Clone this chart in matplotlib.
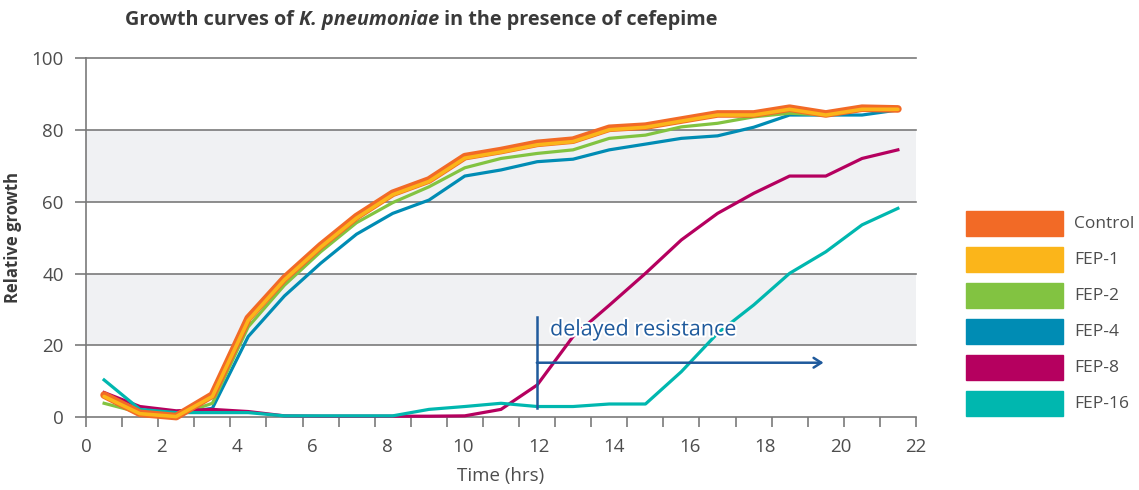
import matplotlib.pyplot as plt
import matplotlib.patheffects as pe
from matplotlib.patches import Rectangle

plt.rcParams['font.family'] = ['Open Sans', 'DejaVu Sans']

# sample times (hrs)
hours = [0.48, 1.43, 2.39, 3.35, 4.30, 5.26, 6.22, 7.17, 8.13, 9.09, 10.04, 11.0,
         11.96, 12.91, 13.87, 14.83, 15.78, 16.74, 17.70, 18.65, 19.61, 20.57, 21.52]

control = [6.2, 1.1, 0.2, 6.2, 27.6, 38.7, 47.8, 55.9, 62.4, 66.1, 72.6, 74.3,
           76.3, 77.2, 80.5, 81.1, 82.8, 84.5, 84.5, 86.1, 84.5, 86.1, 85.9]
fep1 = [5.8, 1.0, 0.2, 5.8, 27.0, 38.3, 47.4, 55.5, 62.0, 65.7, 72.2, 73.9,
        75.9, 76.8, 80.1, 80.8, 82.5, 84.2, 84.2, 85.8, 84.2, 85.8, 85.8]
fep2 = [3.9, 1.3, 0.5, 3.9, 25.2, 36.8, 46.1, 54.2, 59.8, 64.2, 69.5, 72.1,
        73.5, 74.5, 77.7, 78.6, 80.9, 81.9, 83.7, 84.7, 84.2, 85.6, 85.9]
fep4 = [6.0, 2.0, 1.0, 2.5, 22.5, 33.8, 42.9, 51.0, 56.8, 60.5, 67.2, 68.9,
        71.2, 71.9, 74.5, 76.1, 77.7, 78.4, 80.8, 84.2, 84.2, 84.2, 85.6]
fep8 = [6.9, 3.0, 1.8, 2.2, 1.6, 0.4, 0.3, 0.3, 0.3, 0.3, 0.4, 2.2,
        9.0, 22.5, 31.2, 40.1, 49.4, 56.8, 62.4, 67.2, 67.2, 72.1, 74.5]
fep16 = [10.4, 2.2, 1.3, 1.3, 1.3, 0.4, 0.4, 0.4, 0.4, 2.2, 3.0, 3.9,
         3.0, 3.0, 3.7, 3.7, 12.7, 23.4, 31.3, 40.1, 46.1, 53.6, 58.2]

labels = ['Control', 'FEP-1', 'FEP-2', 'FEP-4', 'FEP-8', 'FEP-16']
colors = ['#f26a26', '#fbb51a', '#82c341', '#008cb4', '#b5005f', '#00b7af']

grey = '#7a7a7a'
text_grey = '#4d4d4d'
blue_note = '#1f5a9c'

fig = plt.figure(figsize=(11.39, 4.90), dpi=100)
ax = fig.add_axes([0.0755, 0.1484, 0.7287, 0.7326])

# shaded bands and grid
for lo, hi in [(20, 40), (60, 80)]:
    ax.axhspan(lo, hi, color='#f0f1f3', zorder=0, lw=0)
for yv in [20, 40, 60, 80, 100]:
    ax.axhline(yv, color=grey, lw=1.2, zorder=1, clip_on=False)

ax.set_xlim(0, 22)
ax.set_ylim(0, 100)

# series
ax.plot(hours, fep4, color=colors[3], lw=2.3, zorder=3, clip_on=False)
ax.plot(hours, fep2, color=colors[2], lw=2.3, zorder=3, clip_on=False)
ax.plot(hours, fep8, color=colors[4], lw=2.3, zorder=4, clip_on=False)
ax.plot(hours, fep16, color=colors[5], lw=2.3, zorder=4, clip_on=False)
ax.plot(hours, control, color=colors[0], lw=5.5, zorder=5, clip_on=False,
        solid_capstyle='round')
ax.plot(hours, fep1, color=colors[1], lw=2.6, zorder=6, clip_on=False,
        solid_capstyle='round')

# delayed resistance annotation
ax.plot([11.95, 11.95], [2.5, 28], color=blue_note, lw=1.8, zorder=7)
ax.annotate('', xy=(19.55, 15.2), xytext=(11.95, 15.2),
            arrowprops=dict(arrowstyle='->,head_length=0.55,head_width=0.35',
                            color=blue_note, lw=1.8, shrinkA=0, shrinkB=0),
            zorder=7)
ax.text(12.3, 22.8, 'delayed resistance', color=blue_note, fontsize=15.5,
        ha='left', va='baseline', zorder=8,
        path_effects=[pe.withStroke(linewidth=3, foreground='white')])

# axes styling
for s in ['top', 'right']:
    ax.spines[s].set_visible(False)
ax.spines['left'].set_color(grey)
ax.spines['bottom'].set_color(grey)
ax.spines['left'].set_linewidth(1.2)
ax.spines['bottom'].set_linewidth(1.2)
ax.xaxis.remove_overlapping_locs = False
ax.set_xticks([i * 22 / 23 for i in range(24)])
ax.set_xticklabels([])
ax.set_xticks(range(0, 23, 2), minor=True)
ax.set_xticklabels([str(v) for v in range(0, 23, 2)], minor=True)
ax.tick_params(axis='x', which='major', length=7, width=1.2, color=grey, direction='out')
ax.tick_params(axis='x', which='minor', length=0, pad=15, labelsize=13.5, labelcolor=text_grey)
ax.set_yticks([0, 20, 40, 60, 80, 100])
ax.tick_params(axis='y', length=8, width=1.2, color=grey, labelsize=13.5,
               labelcolor=text_grey, pad=8)

ax.set_xlabel('Time (hrs)', fontsize=13.5, color=text_grey, labelpad=8)
ax.set_ylabel('Relative growth', fontsize=12, fontweight='bold', color='#3a3a3a', labelpad=7)

# title with italic species name
fig.canvas.draw()
renderer = fig.canvas.get_renderer()
parts = [('Growth curves of ', 'normal'), ('K. pneumoniae', 'italic'),
         (' in the presence of cefepime', 'normal')]
x0 = 125 / 1139
for txt, style in parts:
    t = fig.text(x0, 1 - 20 / 490, txt, fontsize=14.3, fontweight='bold', style=style,
                 color='#3a3a3a', va='center', ha='left')
    bb = t.get_window_extent(renderer)
    x0 += bb.width / (1139)

# legend as coloured boxes
for i, (lab, col) in enumerate(zip(labels, colors)):
    yc = 1 - (223.5 + 36 * i) / 490
    fig.patches.append(Rectangle((966 / 1139, yc - 12.5 / 490), 97 / 1139, 25 / 490,
                                 transform=fig.transFigure, color=col))
    fig.text(1074 / 1139, yc, lab, fontsize=12.5, color=text_grey, va='center', ha='left')

fig.savefig('out.png', dpi=100)
